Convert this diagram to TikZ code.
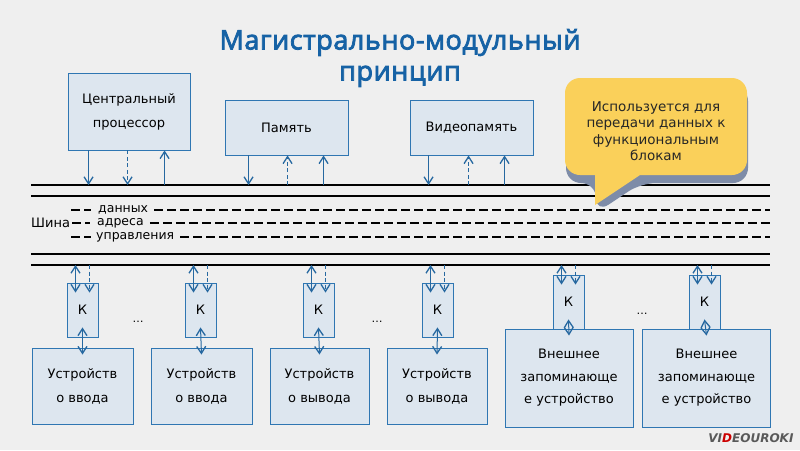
\documentclass[tikz,border=0pt]{standalone}
\usepackage{fontspec}
\setmainfont{DejaVu Sans}
\newfontfamily\titlefont[LetterSpace=2, FakeBold=3]{Open Sans}
\usetikzlibrary{arrows.meta, positioning, calc}

\definecolor{bgc}{RGB}{239,239,239}
\definecolor{titlec}{RGB}{22,98,165}
\definecolor{boxc}{RGB}{47,118,178}
\definecolor{boxfill}{RGB}{221,230,239}
\definecolor{linec}{RGB}{38,104,160}
\definecolor{notec}{RGB}{250,208,90}
\definecolor{shadowc}{RGB}{126,140,168}

\begin{document}
\begin{tikzpicture}[x=1pt, y=-1pt,
            % Styles
            unit/.style={rectangle, draw=boxc, fill=boxfill, line width=0.9pt, align=center, font=\fontsize{13}{24}\selectfont},
            ctrl/.style={rectangle, draw=boxc, fill=boxfill, line width=0.9pt, minimum width=31pt, minimum height=54pt, inner sep=0pt, font=\fontsize{13}{15}\selectfont},
            dev/.style={unit, minimum width=101pt, minimum height=76pt},
            ext/.style={unit, minimum width=128pt, minimum height=98pt, font=\fontsize{13}{22.5}\selectfont},
            busline/.style={draw=black, line width=2.4pt},
            busdash/.style={draw=black, line width=2.2pt, dash pattern=on 9pt off 4pt},
            tip/.tip={Straight Barb[length=7pt, width=9pt, line width=1.3pt]},
            tap/.style={draw=linec, line width=1pt, -tip},
            tapd/.style={tap, dash pattern=on 4pt off 2.5pt},
            tapb/.style={draw=linec, line width=1pt, tip-tip},
            buslabel/.style={font=\fontsize{12.5}{14}\selectfont, inner sep=1pt}
        ]

        \fill[bgc] (0,0) rectangle (800,450);

        % Title
        \node[font=\titlefont\fontsize{27}{31}\selectfont, text=titlec, align=center] (title) at (400,58) {Магистрально-модульный\\принцип};

        % Bus
        \coordinate (bus1) at (31,185);
        \coordinate (bus2) at (31,196);
        \coordinate (bus3) at (31,254);
        \coordinate (bus4) at (31,265);
        \draw[busline] (bus1) -- (770,185);
        \draw[busline] (bus2) -- (770,196);
        \draw[busline] (bus3) -- (770,254);
        \draw[busline] (bus4) -- (770,265);

        \node[buslabel, anchor=west, font=\fontsize{13}{15}\selectfont] (shina) at (30,223) {Шина};
        \node[buslabel, anchor=west] (ldata) at (97,210) {данных};
        \node[buslabel, anchor=west] (laddr) at (96,223) {адреса};
        \node[buslabel, anchor=west] (lctrl) at (95,237) {управления};
        \draw[busdash] (71,210) -- (91,210) (ldata.east) ++(5,0) -- (770,210);
        \draw[busdash] (72,223) -- (90,223) (laddr.east) ++(5,0) -- (770,223);
        \draw[busdash] (71,237) -- (91,237) (lctrl.east) ++(5,0) -- (770,237);

        % Top units
        \node[unit, minimum width=122pt, minimum height=77pt] (cpu) at (129,111.5) {Центральный\\процессор};
        \node[unit, minimum width=123pt, minimum height=55pt] (mem) at (286.5,127.5) {Память};
        \node[unit, minimum width=123pt, minimum height=55pt] (vmem) at (471.5,127.5) {Видеопамять};

        \draw[tap] ([xshift=21]cpu.south west) -- ([xshift=21]cpu.south west |- bus1);
        \draw[tapd] ([xshift=60]cpu.south west) -- ([xshift=60]cpu.south west |- bus1);
        \draw[tap] ([xshift=97]cpu.south west |- bus1) -- ([xshift=97]cpu.south west);
        \draw[tap] ([xshift=24]mem.south west) -- ([xshift=24]mem.south west |- bus1);
        \draw[tapd] ([xshift=63]mem.south west |- bus1) -- ([xshift=63]mem.south west);
        \draw[tap] ([xshift=99]mem.south west |- bus1) -- ([xshift=99]mem.south west);
        \draw[tap] ([xshift=19]vmem.south west) -- ([xshift=19]vmem.south west |- bus1);
        \draw[tapd] ([xshift=59]vmem.south west |- bus1) -- ([xshift=59]vmem.south west);
        \draw[tap] ([xshift=95]vmem.south west |- bus1) -- ([xshift=95]vmem.south west);

        % Controllers and devices
        \node[ctrl] (k1) at (82.5,310) {К};
        \node[ctrl] (k2) at (200.5,310) {К};
        \node[ctrl] (k3) at (318.5,310) {К};
        \node[ctrl] (k4) at (437.5,310) {К};
        \node[ctrl] (k5) at (568.5,302) {К};
        \node[ctrl] (k6) at (704.5,302) {К};

        \node[dev] (d1) at (82.5,386) {Устройств\\о ввода};
        \node[dev] (d2) at (201.5,386) {Устройств\\о ввода};
        \node[dev, minimum width=99pt] (d3) at (319.5,386) {Устройств\\о вывода};
        \node[dev, minimum width=100pt] (d4) at (437,386) {Устройств\\о вывода};
        \node[ext] (d5) at (569,378) {Внешнее\\запоминающе\\е устройство};
        \node[ext] (d6) at (706.5,378) {Внешнее\\запоминающе\\е устройство};

        \foreach \k/\d in {k1/d1, k2/d2, k3/d3, k4/d4, k5/d5, k6/d6} {
            \draw[tapb] ([xshift=-7]\k.north |- bus4) -- ([xshift=-7, yshift=-10]\k.north);
            \draw[tapd] ([xshift=7]\k.north |- bus4) -- ([xshift=7, yshift=-10]\k.north);
            \draw[tapb] ([yshift=10]\k.south) -- ([yshift=-7]\d.north);
        }

        \node[font=\fontsize{11}{13}\selectfont] (dots1) at (138,322) {\dots};
        \node[font=\fontsize{11}{13}\selectfont] (dots2) at (377,322) {\dots};
        \node[font=\fontsize{11}{13}\selectfont] (dots3) at (642,314) {\dots};

        % Callout
        \fill[shadowc, rounded corners=15pt] (566,86) -- (748,86) -- (748,183) -- (641,183) -- (596,213) -- (596,183) -- (566,183) -- cycle;
        \fill[notec] (565,92) [rounded corners=15pt] -- (565,78) -- (747,78) -- (747,175) [sharp corners] -- (640,175) -- (595,205) -- (595,175) [rounded corners=15pt] -- (565,175) -- (565,92);
        \node[font=\fontsize{13.5}{16.5}\selectfont, text=black!85, align=center] (note) at (656,131) {Используется для\\передачи данных к\\функциональным\\блокам};

        % Watermark
        \node[font=\bfseries\itshape\fontsize{12}{14}\selectfont, text=black!65, anchor=east] (logo) at (797,438) {VI\textcolor{red!80!black}{D}EOUROKI};
    \end{tikzpicture}
\end{document}
